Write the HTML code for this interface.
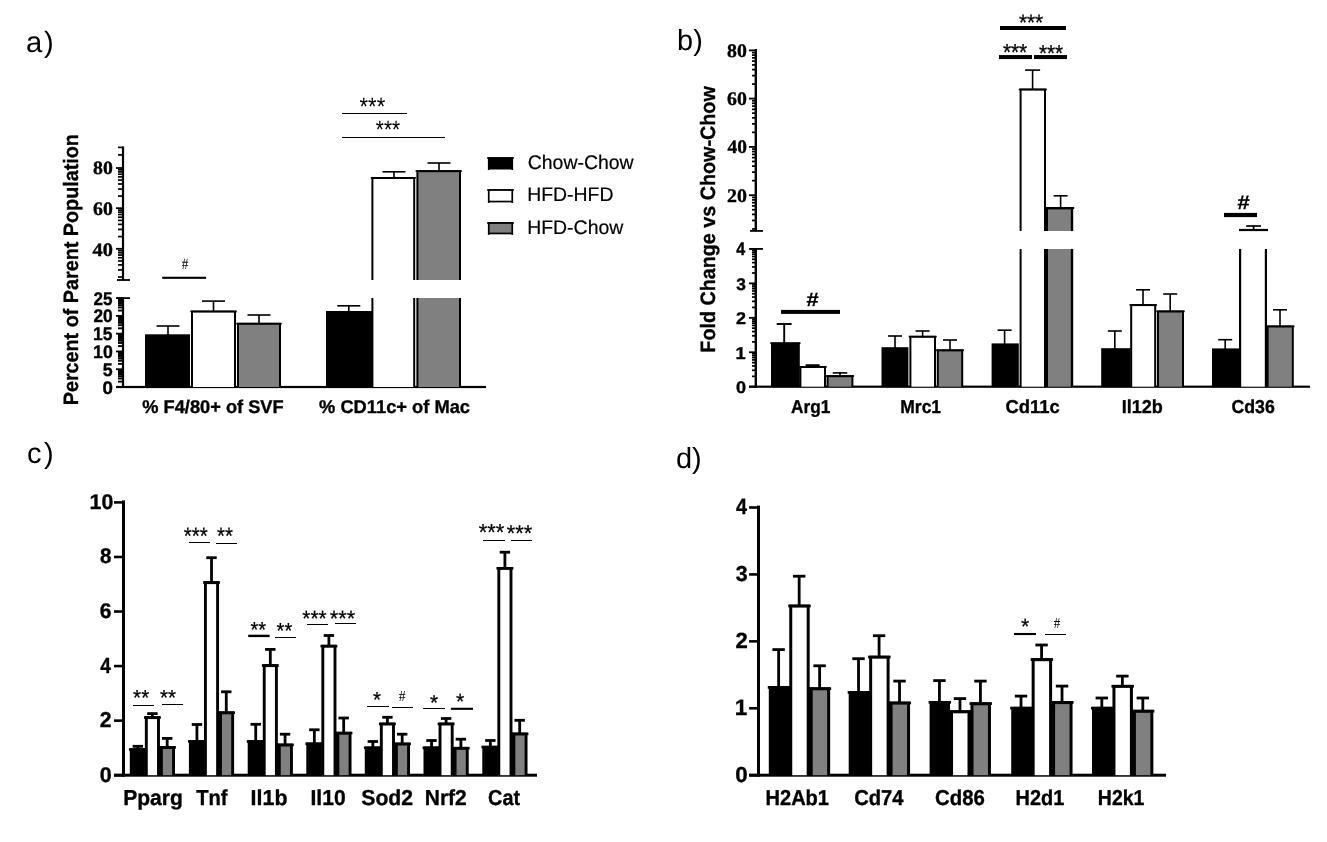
<!DOCTYPE html>
<html lang="en">
<head>
<meta charset="utf-8">
<title>Figure: adipose tissue macrophage gene expression (panels a-d)</title>
<style>
html,body{margin:0;padding:0;background:#fff;}
body{width:1327px;height:842px;overflow:hidden;}
svg{display:block;}
</style>
</head>
<body>
<svg width="1327" height="842" viewBox="0 0 1327 842" shape-rendering="geometricPrecision" text-rendering="geometricPrecision">
<rect x="0" y="0" width="1327" height="842" fill="#fff"/>
<text x="26.06 44.03" y="52" font-family='"Liberation Sans", Arial, Helvetica, sans-serif' font-size="29.2">a)</text>
<text x="676.97 693.28" y="49.9" font-family='"Liberation Sans", Arial, Helvetica, sans-serif' font-size="28.9">b)</text>
<text x="27.08 44.06" y="463" font-family='"Liberation Sans", Arial, Helvetica, sans-serif' font-size="29">c)</text>
<text x="675.91 692.06" y="467.8" font-family='"Liberation Sans", Arial, Helvetica, sans-serif' font-size="29">d)</text>
<g id="panel-a">
<rect x="121.9" y="146.4" width="2.2" height="134.1" fill="#000"/>
<rect x="121.9" y="297.5" width="2.2" height="90.5" fill="#000"/>
<rect x="117" y="279.1" width="13" height="1.8" fill="#000"/>
<rect x="117" y="297.2" width="13" height="1.8" fill="#000"/>
<rect x="116" y="385.9" width="370" height="2.2" fill="#000"/>
<rect x="116" y="167.1" width="7" height="1.8" fill="#000"/>
<rect x="116" y="207.3" width="7" height="1.8" fill="#000"/>
<rect x="116" y="247.9" width="7" height="1.8" fill="#000"/>
<rect x="118" y="154.05" width="5" height="1.7" fill="#000"/>
<rect x="118" y="146.55" width="5" height="1.7" fill="#000"/>
<rect x="118" y="195.25" width="5" height="1.7" fill="#000"/>
<rect x="118" y="188.17" width="5" height="1.7" fill="#000"/>
<rect x="118" y="183.15" width="5" height="1.7" fill="#000"/>
<rect x="118" y="179.25" width="5" height="1.7" fill="#000"/>
<rect x="118" y="176.07" width="5" height="1.7" fill="#000"/>
<rect x="118" y="173.38" width="5" height="1.7" fill="#000"/>
<rect x="118" y="171.05" width="5" height="1.7" fill="#000"/>
<rect x="118" y="168.99" width="5" height="1.7" fill="#000"/>
<rect x="118" y="235.73" width="5" height="1.7" fill="#000"/>
<rect x="118" y="228.58" width="5" height="1.7" fill="#000"/>
<rect x="118" y="223.51" width="5" height="1.7" fill="#000"/>
<rect x="118" y="219.57" width="5" height="1.7" fill="#000"/>
<rect x="118" y="216.36" width="5" height="1.7" fill="#000"/>
<rect x="118" y="213.64" width="5" height="1.7" fill="#000"/>
<rect x="118" y="211.28" width="5" height="1.7" fill="#000"/>
<rect x="118" y="209.21" width="5" height="1.7" fill="#000"/>
<rect x="118" y="276.19" width="5" height="1.7" fill="#000"/>
<rect x="118" y="269.07" width="5" height="1.7" fill="#000"/>
<rect x="118" y="264.03" width="5" height="1.7" fill="#000"/>
<rect x="118" y="260.11" width="5" height="1.7" fill="#000"/>
<rect x="118" y="256.91" width="5" height="1.7" fill="#000"/>
<rect x="118" y="254.21" width="5" height="1.7" fill="#000"/>
<rect x="118" y="251.87" width="5" height="1.7" fill="#000"/>
<rect x="118" y="249.8" width="5" height="1.7" fill="#000"/>
<rect x="116" y="386.1" width="7" height="1.8" fill="#000"/>
<rect x="118" y="380.7" width="5" height="1.9" fill="#000"/>
<rect x="118" y="377.57" width="5" height="1.9" fill="#000"/>
<rect x="118" y="375.35" width="5" height="1.9" fill="#000"/>
<rect x="118" y="373.62" width="5" height="1.9" fill="#000"/>
<rect x="118" y="372.21" width="5" height="1.9" fill="#000"/>
<rect x="118" y="371.02" width="5" height="1.9" fill="#000"/>
<rect x="118" y="369.99" width="5" height="1.9" fill="#000"/>
<rect x="118" y="369.08" width="5" height="1.9" fill="#000"/>
<rect x="116" y="368.32" width="7" height="1.8" fill="#000"/>
<rect x="118" y="362.92" width="5" height="1.9" fill="#000"/>
<rect x="118" y="359.79" width="5" height="1.9" fill="#000"/>
<rect x="118" y="357.57" width="5" height="1.9" fill="#000"/>
<rect x="118" y="355.84" width="5" height="1.9" fill="#000"/>
<rect x="118" y="354.43" width="5" height="1.9" fill="#000"/>
<rect x="118" y="353.24" width="5" height="1.9" fill="#000"/>
<rect x="118" y="352.21" width="5" height="1.9" fill="#000"/>
<rect x="118" y="351.3" width="5" height="1.9" fill="#000"/>
<rect x="116" y="350.54" width="7" height="1.8" fill="#000"/>
<rect x="118" y="345.14" width="5" height="1.9" fill="#000"/>
<rect x="118" y="342.01" width="5" height="1.9" fill="#000"/>
<rect x="118" y="339.79" width="5" height="1.9" fill="#000"/>
<rect x="118" y="338.06" width="5" height="1.9" fill="#000"/>
<rect x="118" y="336.65" width="5" height="1.9" fill="#000"/>
<rect x="118" y="335.46" width="5" height="1.9" fill="#000"/>
<rect x="118" y="334.43" width="5" height="1.9" fill="#000"/>
<rect x="118" y="333.52" width="5" height="1.9" fill="#000"/>
<rect x="116" y="332.76" width="7" height="1.8" fill="#000"/>
<rect x="118" y="327.36" width="5" height="1.9" fill="#000"/>
<rect x="118" y="324.23" width="5" height="1.9" fill="#000"/>
<rect x="118" y="322.01" width="5" height="1.9" fill="#000"/>
<rect x="118" y="320.28" width="5" height="1.9" fill="#000"/>
<rect x="118" y="318.87" width="5" height="1.9" fill="#000"/>
<rect x="118" y="317.68" width="5" height="1.9" fill="#000"/>
<rect x="118" y="316.65" width="5" height="1.9" fill="#000"/>
<rect x="118" y="315.74" width="5" height="1.9" fill="#000"/>
<rect x="116" y="314.98" width="7" height="1.8" fill="#000"/>
<rect x="118" y="309.58" width="5" height="1.9" fill="#000"/>
<rect x="118" y="306.45" width="5" height="1.9" fill="#000"/>
<rect x="118" y="304.23" width="5" height="1.9" fill="#000"/>
<rect x="118" y="302.5" width="5" height="1.9" fill="#000"/>
<rect x="118" y="301.09" width="5" height="1.9" fill="#000"/>
<rect x="118" y="299.9" width="5" height="1.9" fill="#000"/>
<rect x="118" y="298.87" width="5" height="1.9" fill="#000"/>
<rect x="118" y="297.96" width="5" height="1.9" fill="#000"/>
<rect x="116" y="297.2" width="7" height="1.8" fill="#000"/>
<text transform="translate(93.01 173.71) scale(1.0515 1.0000)" font-family='"Liberation Serif", "Times New Roman", Times, serif' font-size="18.81" font-weight="bold" stroke="#000" stroke-width="0.35">80</text>
<text transform="translate(93.01 214.81) scale(1.0352 1.0000)" font-family='"Liberation Serif", "Times New Roman", Times, serif' font-size="19.11" font-weight="bold" stroke="#000" stroke-width="0.35">60</text>
<text transform="translate(92.5 255.91) scale(1.0631 1.0000)" font-family='"Liberation Serif", "Times New Roman", Times, serif' font-size="19.11" font-weight="bold" stroke="#000" stroke-width="0.35">40</text>
<text transform="translate(102.55 393.57) scale(1.0313 1.0000)" font-family='"Liberation Sans", Arial, Helvetica, sans-serif' font-size="18.17" font-weight="bold" stroke="#000" stroke-width="0.35">0</text>
<text transform="translate(102.77 375.79) scale(0.9659 1.0000)" font-family='"Liberation Sans", Arial, Helvetica, sans-serif' font-size="18.43" font-weight="bold" stroke="#000" stroke-width="0.35">5</text>
<text transform="translate(93.04 358.01) scale(0.9754 1.0000)" font-family='"Liberation Sans", Arial, Helvetica, sans-serif' font-size="18.17" font-weight="bold" stroke="#000" stroke-width="0.35">10</text>
<text transform="translate(93.05 340.23) scale(0.9476 1.0000)" font-family='"Liberation Sans", Arial, Helvetica, sans-serif' font-size="18.43" font-weight="bold" stroke="#000" stroke-width="0.35">15</text>
<text transform="translate(93.49 322.45) scale(0.9519 1.0000)" font-family='"Liberation Sans", Arial, Helvetica, sans-serif' font-size="18.17" font-weight="bold" stroke="#000" stroke-width="0.35">20</text>
<text transform="translate(93.5 304.67) scale(0.9383 1.0000)" font-family='"Liberation Sans", Arial, Helvetica, sans-serif' font-size="18.17" font-weight="bold" stroke="#000" stroke-width="0.35">25</text>
<text transform="translate(77.9 405.29) rotate(-90) scale(0.9516 1.0000)" font-family='"Liberation Sans", Arial, Helvetica, sans-serif' font-size="20.78" font-weight="bold" stroke="#000" stroke-width="0.35">Percent of Parent Population</text>
<rect x="145" y="334.3" width="45" height="53.2" fill="#000"/>
<rect x="191" y="310.6" width="45" height="76.9" fill="#000"/>
<rect x="190.3" y="310.6" width="46.4" height="1.7" fill="#000"/>
<rect x="193" y="312.6" width="41" height="74.4" fill="#fff"/>
<rect x="237" y="322.8" width="44" height="64.7" fill="#000"/>
<rect x="236.3" y="322.8" width="45.4" height="1.7" fill="#000"/>
<rect x="239" y="324.8" width="40" height="62.2" fill="#808080"/>
<rect x="167.2" y="326" width="1.6" height="9.3" fill="#000"/>
<rect x="156.5" y="325.2" width="23" height="1.6" fill="#000"/>
<rect x="212.7" y="301.1" width="1.6" height="10.5" fill="#000"/>
<rect x="202" y="300.3" width="23" height="1.6" fill="#000"/>
<rect x="258.2" y="315" width="1.6" height="8.8" fill="#000"/>
<rect x="247.5" y="314.2" width="23" height="1.6" fill="#000"/>
<rect x="326" y="311" width="46" height="76.5" fill="#000"/>
<rect x="348" y="305.8" width="1.6" height="6.2" fill="#000"/>
<rect x="337.3" y="305" width="23" height="1.6" fill="#000"/>
<rect x="371.4" y="177" width="43.8" height="103" fill="#000"/>
<rect x="370.8" y="177" width="45" height="1.7" fill="#000"/>
<rect x="373.4" y="179" width="39.8" height="101" fill="#fff"/>
<rect x="371.4" y="298" width="43.8" height="89.5" fill="#000"/>
<rect x="373.4" y="298" width="39.8" height="89" fill="#fff"/>
<rect x="416.4" y="170.2" width="44.6" height="109.8" fill="#000"/>
<rect x="415.6" y="170.2" width="46.2" height="1.7" fill="#000"/>
<rect x="418.4" y="172.2" width="40.6" height="107.8" fill="#808080"/>
<rect x="416.4" y="298" width="44.6" height="89.5" fill="#000"/>
<rect x="418.4" y="298" width="40.6" height="89" fill="#808080"/>
<rect x="393.2" y="171.8" width="1.6" height="6.2" fill="#000"/>
<rect x="382.5" y="171" width="23" height="1.6" fill="#000"/>
<rect x="438.2" y="163" width="1.6" height="8.2" fill="#000"/>
<rect x="427.5" y="162.2" width="23" height="1.6" fill="#000"/>
<rect x="162.2" y="276.75" width="43.9" height="2.1" fill="#000"/>
<text transform="translate(181.83 269.2) scale(0.8433 1.0000)" font-family='"Liberation Serif", "Times New Roman", Times, serif' font-size="15.73">#</text>
<rect x="342" y="113" width="65" height="1" fill="#000" shape-rendering="crispEdges"/>
<rect x="342" y="137" width="103" height="1" fill="#000" shape-rendering="crispEdges"/>
<text transform="translate(359.57 114.75) scale(0.8722 1.0000)" font-family='"Liberation Sans", Arial, Helvetica, sans-serif' font-size="25.14">***</text>
<text transform="translate(375.79 138.45) scale(0.8269 1.0000)" font-family='"Liberation Sans", Arial, Helvetica, sans-serif' font-size="25.14">***</text>
<text transform="translate(142.34 412.9) scale(0.9884 1.0000)" font-family='"Liberation Sans", Arial, Helvetica, sans-serif' font-size="18.46" font-weight="bold" stroke="#000" stroke-width="0.35">% F4/80+ of SVF</text>
<text transform="translate(319.04 412.9) scale(0.9922 1.0000)" font-family='"Liberation Sans", Arial, Helvetica, sans-serif' font-size="18.46" font-weight="bold" stroke="#000" stroke-width="0.35">% CD11c+ of Mac</text>
<rect x="487.2" y="157.2" width="26.6" height="1.7" fill="#000"/>
<rect x="487.9" y="157.2" width="25.2" height="12.3" fill="#000"/>
<rect x="487.9" y="169" width="1.7" height="1" fill="#000"/>
<rect x="511.4" y="169" width="1.7" height="1" fill="#000"/>
<text transform="translate(527.73 169.3) scale(0.9909 1.0000)" font-family='"Liberation Sans", Arial, Helvetica, sans-serif' font-size="19.62" stroke="#000" stroke-width="0.2">Chow-Chow</text>
<rect x="487.2" y="189.2" width="26.6" height="1.7" fill="#000"/>
<rect x="487.9" y="189.2" width="25.2" height="13.2" fill="#000"/>
<rect x="487.9" y="201.9" width="1.7" height="1" fill="#000"/>
<rect x="511.4" y="201.9" width="1.7" height="1" fill="#000"/>
<rect x="489.6" y="190.9" width="21.8" height="9.8" fill="#fff"/>
<text transform="translate(527.14 201.4) scale(0.9909 1.0000)" font-family='"Liberation Sans", Arial, Helvetica, sans-serif' font-size="19.62" stroke="#000" stroke-width="0.2">HFD-HFD</text>
<rect x="487.2" y="222.2" width="26.6" height="1.7" fill="#000"/>
<rect x="487.9" y="222.2" width="25.2" height="12.1" fill="#000"/>
<rect x="487.9" y="233.8" width="1.7" height="1" fill="#000"/>
<rect x="511.4" y="233.8" width="1.7" height="1" fill="#000"/>
<rect x="489.6" y="223.9" width="21.8" height="8.7" fill="#808080"/>
<text transform="translate(527.14 233.7) scale(0.9921 1.0000)" font-family='"Liberation Sans", Arial, Helvetica, sans-serif' font-size="19.62" stroke="#000" stroke-width="0.2">HFD-Chow</text>
</g>
<g id="panel-b">
<rect x="754.6" y="49" width="2.4" height="182.5" fill="#000"/>
<rect x="754.6" y="248.2" width="2.4" height="139.6" fill="#000"/>
<rect x="750" y="230" width="13" height="1.8" fill="#000"/>
<rect x="750" y="248" width="13" height="1.8" fill="#000"/>
<rect x="749" y="385.6" width="561" height="2.2" fill="#000"/>
<rect x="749" y="49.5" width="6.8" height="1.8" fill="#000"/>
<text transform="translate(727.11 56.81) scale(1.0352 1.0000)" font-family='"Liberation Serif", "Times New Roman", Times, serif' font-size="19.11" font-weight="bold" stroke="#000" stroke-width="0.35">80</text>
<rect x="749" y="97.7" width="6.8" height="1.8" fill="#000"/>
<text transform="translate(727.11 105.01) scale(1.0352 1.0000)" font-family='"Liberation Serif", "Times New Roman", Times, serif' font-size="19.11" font-weight="bold" stroke="#000" stroke-width="0.35">60</text>
<rect x="749" y="146" width="6.8" height="1.8" fill="#000"/>
<text transform="translate(727.51 153.31) scale(1.0133 1.0000)" font-family='"Liberation Serif", "Times New Roman", Times, serif' font-size="19.11" font-weight="bold" stroke="#000" stroke-width="0.35">40</text>
<rect x="749" y="194.3" width="6.8" height="1.8" fill="#000"/>
<text transform="translate(727 201.61) scale(1.0408 1.0000)" font-family='"Liberation Serif", "Times New Roman", Times, serif' font-size="19.11" font-weight="bold" stroke="#000" stroke-width="0.35">20</text>
<rect x="752" y="83.24" width="3.8" height="1.7" fill="#000"/>
<rect x="752" y="74.75" width="3.8" height="1.7" fill="#000"/>
<rect x="752" y="68.73" width="3.8" height="1.7" fill="#000"/>
<rect x="752" y="64.06" width="3.8" height="1.7" fill="#000"/>
<rect x="752" y="60.24" width="3.8" height="1.7" fill="#000"/>
<rect x="752" y="57.02" width="3.8" height="1.7" fill="#000"/>
<rect x="752" y="54.22" width="3.8" height="1.7" fill="#000"/>
<rect x="752" y="51.76" width="3.8" height="1.7" fill="#000"/>
<rect x="752" y="131.51" width="3.8" height="1.7" fill="#000"/>
<rect x="752" y="123.01" width="3.8" height="1.7" fill="#000"/>
<rect x="752" y="116.97" width="3.8" height="1.7" fill="#000"/>
<rect x="752" y="112.29" width="3.8" height="1.7" fill="#000"/>
<rect x="752" y="108.47" width="3.8" height="1.7" fill="#000"/>
<rect x="752" y="105.23" width="3.8" height="1.7" fill="#000"/>
<rect x="752" y="102.43" width="3.8" height="1.7" fill="#000"/>
<rect x="752" y="99.96" width="3.8" height="1.7" fill="#000"/>
<rect x="752" y="179.81" width="3.8" height="1.7" fill="#000"/>
<rect x="752" y="171.31" width="3.8" height="1.7" fill="#000"/>
<rect x="752" y="165.27" width="3.8" height="1.7" fill="#000"/>
<rect x="752" y="160.59" width="3.8" height="1.7" fill="#000"/>
<rect x="752" y="156.77" width="3.8" height="1.7" fill="#000"/>
<rect x="752" y="153.53" width="3.8" height="1.7" fill="#000"/>
<rect x="752" y="150.73" width="3.8" height="1.7" fill="#000"/>
<rect x="752" y="148.26" width="3.8" height="1.7" fill="#000"/>
<rect x="752" y="228.11" width="3.8" height="1.7" fill="#000"/>
<rect x="752" y="219.61" width="3.8" height="1.7" fill="#000"/>
<rect x="752" y="213.57" width="3.8" height="1.7" fill="#000"/>
<rect x="752" y="208.89" width="3.8" height="1.7" fill="#000"/>
<rect x="752" y="205.07" width="3.8" height="1.7" fill="#000"/>
<rect x="752" y="201.83" width="3.8" height="1.7" fill="#000"/>
<rect x="752" y="199.03" width="3.8" height="1.7" fill="#000"/>
<rect x="752" y="196.56" width="3.8" height="1.7" fill="#000"/>
<rect x="749" y="385.8" width="6.8" height="1.8" fill="#000"/>
<text transform="translate(735.88 393.03) scale(1.0802 1.0000)" font-family='"Liberation Sans", Arial, Helvetica, sans-serif' font-size="16.76" font-weight="bold" stroke="#000" stroke-width="0.35">0</text>
<rect x="752" y="375.48" width="3.8" height="1.7" fill="#000"/>
<rect x="752" y="369.41" width="3.8" height="1.7" fill="#000"/>
<rect x="752" y="365.11" width="3.8" height="1.7" fill="#000"/>
<rect x="752" y="361.77" width="3.8" height="1.7" fill="#000"/>
<rect x="752" y="359.04" width="3.8" height="1.7" fill="#000"/>
<rect x="752" y="356.74" width="3.8" height="1.7" fill="#000"/>
<rect x="752" y="354.74" width="3.8" height="1.7" fill="#000"/>
<rect x="752" y="352.98" width="3.8" height="1.7" fill="#000"/>
<rect x="749" y="351.35" width="6.8" height="1.8" fill="#000"/>
<text transform="translate(735.5 358.75) scale(1.0610 1.0000)" font-family='"Liberation Sans", Arial, Helvetica, sans-serif' font-size="17.25" font-weight="bold" stroke="#000" stroke-width="0.35">1</text>
<rect x="752" y="341.03" width="3.8" height="1.7" fill="#000"/>
<rect x="752" y="334.96" width="3.8" height="1.7" fill="#000"/>
<rect x="752" y="330.66" width="3.8" height="1.7" fill="#000"/>
<rect x="752" y="327.32" width="3.8" height="1.7" fill="#000"/>
<rect x="752" y="324.59" width="3.8" height="1.7" fill="#000"/>
<rect x="752" y="322.29" width="3.8" height="1.7" fill="#000"/>
<rect x="752" y="320.29" width="3.8" height="1.7" fill="#000"/>
<rect x="752" y="318.53" width="3.8" height="1.7" fill="#000"/>
<rect x="749" y="316.9" width="6.8" height="1.8" fill="#000"/>
<text transform="translate(735.97 324.3) scale(1.0539 1.0000)" font-family='"Liberation Sans", Arial, Helvetica, sans-serif' font-size="17" font-weight="bold" stroke="#000" stroke-width="0.35">2</text>
<rect x="752" y="306.58" width="3.8" height="1.7" fill="#000"/>
<rect x="752" y="300.51" width="3.8" height="1.7" fill="#000"/>
<rect x="752" y="296.21" width="3.8" height="1.7" fill="#000"/>
<rect x="752" y="292.87" width="3.8" height="1.7" fill="#000"/>
<rect x="752" y="290.14" width="3.8" height="1.7" fill="#000"/>
<rect x="752" y="287.84" width="3.8" height="1.7" fill="#000"/>
<rect x="752" y="285.84" width="3.8" height="1.7" fill="#000"/>
<rect x="752" y="284.08" width="3.8" height="1.7" fill="#000"/>
<rect x="749" y="282.45" width="6.8" height="1.8" fill="#000"/>
<text transform="translate(736.17 289.68) scale(1.0366 1.0000)" font-family='"Liberation Sans", Arial, Helvetica, sans-serif' font-size="16.76" font-weight="bold" stroke="#000" stroke-width="0.35">3</text>
<rect x="752" y="272.13" width="3.8" height="1.7" fill="#000"/>
<rect x="752" y="266.06" width="3.8" height="1.7" fill="#000"/>
<rect x="752" y="261.76" width="3.8" height="1.7" fill="#000"/>
<rect x="752" y="258.42" width="3.8" height="1.7" fill="#000"/>
<rect x="752" y="255.69" width="3.8" height="1.7" fill="#000"/>
<rect x="752" y="253.39" width="3.8" height="1.7" fill="#000"/>
<rect x="752" y="251.39" width="3.8" height="1.7" fill="#000"/>
<rect x="752" y="249.63" width="3.8" height="1.7" fill="#000"/>
<rect x="749" y="248" width="6.8" height="1.8" fill="#000"/>
<text transform="translate(736.36 255.4) scale(0.8873 1.0000)" font-family='"Liberation Sans", Arial, Helvetica, sans-serif' font-size="18.12" font-weight="bold" stroke="#000" stroke-width="0.35">4</text>
<text transform="translate(715 352.68) rotate(-90) scale(0.9504 1.0000)" font-family='"Liberation Sans", Arial, Helvetica, sans-serif' font-size="20.78" font-weight="bold" stroke="#000" stroke-width="0.35">Fold Change vs Chow-Chow</text>
<rect x="771" y="342.4" width="28.8" height="44.8" fill="#000"/>
<rect x="770.3" y="342.4" width="30.2" height="1.7" fill="#000"/>
<rect x="799.4" y="366" width="26.6" height="21.2" fill="#000"/>
<rect x="798.7" y="366" width="28" height="1.7" fill="#000"/>
<rect x="801.4" y="368" width="22.6" height="18.7" fill="#fff"/>
<rect x="826.6" y="375.2" width="26.8" height="12" fill="#000"/>
<rect x="825.9" y="375.2" width="28.2" height="1.7" fill="#000"/>
<rect x="828.6" y="377.2" width="22.8" height="9.5" fill="#808080"/>
<rect x="783.25" y="324" width="1.9" height="19.7" fill="#000"/>
<rect x="776.7" y="323.05" width="15" height="1.9" fill="#000"/>
<rect x="811.65" y="365.2" width="1.9" height="2.4" fill="#000"/>
<rect x="805.6" y="364.25" width="14" height="1.9" fill="#000"/>
<rect x="839.2" y="372.9" width="1.6" height="3.3" fill="#000"/>
<rect x="832.7" y="372.1" width="14.6" height="1.6" fill="#000"/>
<rect x="881.5" y="347.2" width="26.9" height="40" fill="#000"/>
<rect x="909.4" y="335.8" width="26.6" height="51.4" fill="#000"/>
<rect x="908.7" y="335.8" width="28" height="1.7" fill="#000"/>
<rect x="911.4" y="337.8" width="22.6" height="48.9" fill="#fff"/>
<rect x="936.8" y="349.4" width="26.4" height="37.8" fill="#000"/>
<rect x="936.1" y="349.4" width="27.8" height="1.7" fill="#000"/>
<rect x="938.8" y="351.4" width="22.4" height="35.3" fill="#808080"/>
<rect x="894.2" y="336" width="1.6" height="12.2" fill="#000"/>
<rect x="888" y="335.2" width="14" height="1.6" fill="#000"/>
<rect x="921.8" y="331" width="1.6" height="6.7" fill="#000"/>
<rect x="915.6" y="330.2" width="14" height="1.6" fill="#000"/>
<rect x="949.2" y="340" width="1.6" height="10.7" fill="#000"/>
<rect x="943" y="339.2" width="14" height="1.6" fill="#000"/>
<rect x="991.6" y="343.4" width="27.2" height="43.8" fill="#000"/>
<rect x="1003.8" y="330.2" width="1.6" height="14.2" fill="#000"/>
<rect x="997.6" y="329.4" width="14" height="1.6" fill="#000"/>
<rect x="1019.6" y="88.6" width="26.4" height="142.4" fill="#000"/>
<rect x="1018.8" y="88.6" width="28" height="1.7" fill="#000"/>
<rect x="1021.6" y="90.6" width="22.4" height="140.4" fill="#fff"/>
<rect x="1019.6" y="249" width="26.4" height="138.2" fill="#000"/>
<rect x="1021.6" y="249" width="22.4" height="137.7" fill="#fff"/>
<rect x="1045.6" y="207" width="27.6" height="24" fill="#000"/>
<rect x="1044.6" y="207" width="29.6" height="2.1" fill="#000"/>
<rect x="1048" y="209.4" width="22.8" height="21.6" fill="#808080"/>
<rect x="1045.6" y="249" width="27.6" height="138.2" fill="#000"/>
<rect x="1048" y="249" width="22.8" height="137.7" fill="#808080"/>
<rect x="1031.8" y="70.1" width="1.6" height="19.5" fill="#000"/>
<rect x="1025.1" y="69.3" width="15" height="1.6" fill="#000"/>
<rect x="1059.8" y="195.8" width="1.6" height="12.2" fill="#000"/>
<rect x="1053.6" y="195" width="14" height="1.6" fill="#000"/>
<rect x="1101.2" y="348.2" width="29.4" height="39" fill="#000"/>
<rect x="1130.2" y="304.1" width="26" height="83.1" fill="#000"/>
<rect x="1129.5" y="304.1" width="27.4" height="1.7" fill="#000"/>
<rect x="1132.2" y="306.1" width="22" height="80.6" fill="#fff"/>
<rect x="1157" y="310.5" width="27" height="76.7" fill="#000"/>
<rect x="1156.3" y="310.5" width="28.4" height="1.7" fill="#000"/>
<rect x="1159" y="312.5" width="23" height="74.2" fill="#808080"/>
<rect x="1114" y="331" width="1.6" height="18.4" fill="#000"/>
<rect x="1107.8" y="330.2" width="14" height="1.6" fill="#000"/>
<rect x="1142.2" y="289.8" width="1.6" height="16" fill="#000"/>
<rect x="1136" y="289" width="14" height="1.6" fill="#000"/>
<rect x="1169.4" y="294" width="1.6" height="18" fill="#000"/>
<rect x="1163.2" y="293.2" width="14" height="1.6" fill="#000"/>
<rect x="1212" y="348.4" width="28" height="38.8" fill="#000"/>
<rect x="1224.4" y="339.7" width="1.6" height="9.7" fill="#000"/>
<rect x="1218.2" y="338.9" width="14" height="1.6" fill="#000"/>
<rect x="1239" y="249" width="28" height="138.2" fill="#000"/>
<rect x="1241.2" y="249" width="23.6" height="137.7" fill="#fff"/>
<rect x="1239" y="228.9" width="29" height="2.2" fill="#000"/>
<rect x="1252.75" y="226" width="1.7" height="4.6" fill="#000"/>
<rect x="1246.2" y="225.15" width="14.8" height="1.7" fill="#000"/>
<rect x="1266.6" y="325.5" width="27.2" height="61.7" fill="#000"/>
<rect x="1265.9" y="325.5" width="28.6" height="1.7" fill="#000"/>
<rect x="1268.6" y="327.5" width="23.2" height="59.2" fill="#808080"/>
<rect x="1279.2" y="309.8" width="1.6" height="17.2" fill="#000"/>
<rect x="1273" y="309" width="14" height="1.6" fill="#000"/>
<rect x="781" y="309.9" width="59" height="4" fill="#000"/>
<text transform="translate(806.47 306) scale(1.1458 1.0000)" font-family='"Liberation Sans", Arial, Helvetica, sans-serif' font-size="19.12" font-weight="bold" stroke="#000" stroke-width="0.3">#</text>
<rect x="1000" y="26" width="66" height="4" fill="#000"/>
<rect x="999" y="55.05" width="33" height="4" fill="#000"/>
<rect x="1034" y="55.05" width="33" height="4" fill="#000"/>
<text transform="translate(1018.89 30.38) scale(0.9329 1.0000)" font-family='"Liberation Sans", Arial, Helvetica, sans-serif' font-size="22.29" stroke="#000" stroke-width="0.3">***</text>
<text transform="translate(1002.89 59.77) scale(0.8983 1.0000)" font-family='"Liberation Sans", Arial, Helvetica, sans-serif' font-size="23.14" stroke="#000" stroke-width="0.3">***</text>
<text transform="translate(1038.89 60.67) scale(0.9057 1.0000)" font-family='"Liberation Sans", Arial, Helvetica, sans-serif' font-size="22.86" stroke="#000" stroke-width="0.3">***</text>
<rect x="1224" y="212.9" width="33" height="4.2" fill="#000"/>
<text transform="translate(1237.47 209.2) scale(1.1199 1.0000)" font-family='"Liberation Sans", Arial, Helvetica, sans-serif' font-size="19.56" font-weight="bold" stroke="#000" stroke-width="0.3">#</text>
<text transform="translate(791.07 413) scale(0.9276 1.0000)" font-family='"Liberation Sans", Arial, Helvetica, sans-serif' font-size="18.6" font-weight="bold" stroke="#000" stroke-width="0.35">Arg1</text>
<text transform="translate(900.26 413) scale(0.9409 1.0000)" font-family='"Liberation Sans", Arial, Helvetica, sans-serif' font-size="18.6" font-weight="bold" stroke="#000" stroke-width="0.35">Mrc1</text>
<text transform="translate(1005.56 413) scale(0.9890 1.0000)" font-family='"Liberation Sans", Arial, Helvetica, sans-serif' font-size="18.6" font-weight="bold" stroke="#000" stroke-width="0.35">Cd11c</text>
<text transform="translate(1121.63 413) scale(0.9712 1.0000)" font-family='"Liberation Sans", Arial, Helvetica, sans-serif' font-size="18.6" font-weight="bold" stroke="#000" stroke-width="0.35">Il12b</text>
<text transform="translate(1231.49 413) scale(0.9525 1.0000)" font-family='"Liberation Sans", Arial, Helvetica, sans-serif' font-size="18.6" font-weight="bold" stroke="#000" stroke-width="0.35">Cd36</text>
</g>
<g id="panel-c">
<rect x="122" y="500.4" width="3" height="276.3" fill="#000"/>
<rect x="114" y="773.7" width="423" height="3" fill="#000"/>
<rect x="114" y="773.9" width="9.5" height="2.6" fill="#000"/>
<text transform="translate(99.74 781.69) scale(1.0097 1.0000)" font-family='"Liberation Sans", Arial, Helvetica, sans-serif' font-size="21.27" font-weight="bold" stroke="#000" stroke-width="0.35">0</text>
<rect x="114" y="719.34" width="9.5" height="2.6" fill="#000"/>
<text transform="translate(99.86 727.34) scale(0.9851 1.0000)" font-family='"Liberation Sans", Arial, Helvetica, sans-serif' font-size="21.57" font-weight="bold" stroke="#000" stroke-width="0.35">2</text>
<rect x="114" y="664.78" width="9.5" height="2.6" fill="#000"/>
<text transform="translate(100.31 672.78) scale(0.8712 1.0000)" font-family='"Liberation Sans", Arial, Helvetica, sans-serif' font-size="21.88" font-weight="bold" stroke="#000" stroke-width="0.35">4</text>
<rect x="114" y="610.22" width="9.5" height="2.6" fill="#000"/>
<text transform="translate(99.86 618.01) scale(0.9889 1.0000)" font-family='"Liberation Sans", Arial, Helvetica, sans-serif' font-size="21.27" font-weight="bold" stroke="#000" stroke-width="0.35">6</text>
<rect x="114" y="555.66" width="9.5" height="2.6" fill="#000"/>
<text transform="translate(99.98 563.45) scale(0.9689 1.0000)" font-family='"Liberation Sans", Arial, Helvetica, sans-serif' font-size="21.27" font-weight="bold" stroke="#000" stroke-width="0.35">8</text>
<rect x="114" y="501.1" width="9.5" height="2.6" fill="#000"/>
<text transform="translate(89.52 508.89) scale(1.0056 1.0000)" font-family='"Liberation Sans", Arial, Helvetica, sans-serif' font-size="21.27" font-weight="bold" stroke="#000" stroke-width="0.35">10</text>
<rect x="129.8" y="748.2" width="15.07" height="27.5" fill="#000"/>
<rect x="128.9" y="748.2" width="16.87" height="2.6" fill="#000"/>
<rect x="144.87" y="716.2" width="15.07" height="59.5" fill="#000"/>
<rect x="143.97" y="716.2" width="16.87" height="2.6" fill="#000"/>
<rect x="147.77" y="719.1" width="9.27" height="56.1" fill="#fff"/>
<rect x="159.94" y="746.1" width="15.07" height="29.6" fill="#000"/>
<rect x="159.04" y="746.1" width="16.87" height="2.6" fill="#000"/>
<rect x="162.84" y="749" width="9.27" height="26.2" fill="#808080"/>
<rect x="144.17" y="748.2" width="1.4" height="27" fill="#000"/>
<rect x="159.24" y="746.1" width="1.4" height="29.1" fill="#000"/>
<rect x="136.44" y="746.3" width="2.8" height="2.9" fill="#000"/>
<rect x="132.64" y="744.9" width="10.4" height="2.8" fill="#000"/>
<rect x="151" y="713.6" width="2.8" height="3.6" fill="#000"/>
<rect x="147.21" y="712.2" width="10.4" height="2.8" fill="#000"/>
<rect x="165.78" y="738.4" width="2.8" height="8.7" fill="#000"/>
<rect x="161.98" y="737" width="10.4" height="2.8" fill="#000"/>
<text transform="translate(123.13 805) scale(0.9730 1.0000)" font-family='"Liberation Sans", Arial, Helvetica, sans-serif' font-size="21.66" font-weight="bold" stroke="#000" stroke-width="0.35">Pparg</text>
<rect x="188.9" y="740.2" width="15.07" height="35.5" fill="#000"/>
<rect x="188" y="740.2" width="16.87" height="2.6" fill="#000"/>
<rect x="203.97" y="581.2" width="15.07" height="194.5" fill="#000"/>
<rect x="203.07" y="581.2" width="16.87" height="2.6" fill="#000"/>
<rect x="206.87" y="584.1" width="9.27" height="191.1" fill="#fff"/>
<rect x="219.04" y="711.4" width="15.07" height="64.3" fill="#000"/>
<rect x="218.14" y="711.4" width="16.87" height="2.6" fill="#000"/>
<rect x="221.94" y="714.3" width="9.27" height="60.9" fill="#808080"/>
<rect x="203.27" y="740.2" width="1.4" height="35" fill="#000"/>
<rect x="218.34" y="711.4" width="1.4" height="63.8" fill="#000"/>
<rect x="195.53" y="724.5" width="2.8" height="16.7" fill="#000"/>
<rect x="191.74" y="723.1" width="10.4" height="2.8" fill="#000"/>
<rect x="210.1" y="557.7" width="2.8" height="24.5" fill="#000"/>
<rect x="206.31" y="556.3" width="10.4" height="2.8" fill="#000"/>
<rect x="224.87" y="691.8" width="2.8" height="20.6" fill="#000"/>
<rect x="221.07" y="690.4" width="10.4" height="2.8" fill="#000"/>
<text transform="translate(196.2 805) scale(0.9325 1.0000)" font-family='"Liberation Sans", Arial, Helvetica, sans-serif' font-size="21.66" font-weight="bold" stroke="#000" stroke-width="0.35">Tnf</text>
<rect x="247.7" y="740.2" width="15.07" height="35.5" fill="#000"/>
<rect x="246.8" y="740.2" width="16.87" height="2.6" fill="#000"/>
<rect x="262.77" y="664.2" width="15.07" height="111.5" fill="#000"/>
<rect x="261.87" y="664.2" width="16.87" height="2.6" fill="#000"/>
<rect x="265.67" y="667.1" width="9.27" height="108.1" fill="#fff"/>
<rect x="277.84" y="743.6" width="15.07" height="32.1" fill="#000"/>
<rect x="276.94" y="743.6" width="16.87" height="2.6" fill="#000"/>
<rect x="280.74" y="746.5" width="9.27" height="28.7" fill="#808080"/>
<rect x="262.07" y="740.2" width="1.4" height="35" fill="#000"/>
<rect x="277.14" y="743.6" width="1.4" height="31.6" fill="#000"/>
<rect x="254.33" y="724.3" width="2.8" height="16.9" fill="#000"/>
<rect x="250.53" y="722.9" width="10.4" height="2.8" fill="#000"/>
<rect x="268.91" y="649.4" width="2.8" height="15.8" fill="#000"/>
<rect x="265.11" y="648" width="10.4" height="2.8" fill="#000"/>
<rect x="283.68" y="734.2" width="2.8" height="10.4" fill="#000"/>
<rect x="279.88" y="732.8" width="10.4" height="2.8" fill="#000"/>
<text transform="translate(250.61 805) scale(0.9892 1.0000)" font-family='"Liberation Sans", Arial, Helvetica, sans-serif' font-size="21.66" font-weight="bold" stroke="#000" stroke-width="0.35">Il1b</text>
<rect x="306.3" y="742.5" width="15.07" height="33.2" fill="#000"/>
<rect x="305.4" y="742.5" width="16.87" height="2.6" fill="#000"/>
<rect x="321.37" y="644.8" width="15.07" height="130.9" fill="#000"/>
<rect x="320.47" y="644.8" width="16.87" height="2.6" fill="#000"/>
<rect x="324.27" y="647.7" width="9.27" height="127.5" fill="#fff"/>
<rect x="336.44" y="731.8" width="15.07" height="43.9" fill="#000"/>
<rect x="335.54" y="731.8" width="16.87" height="2.6" fill="#000"/>
<rect x="339.34" y="734.7" width="9.27" height="40.5" fill="#808080"/>
<rect x="320.67" y="742.5" width="1.4" height="32.7" fill="#000"/>
<rect x="335.74" y="731.8" width="1.4" height="43.4" fill="#000"/>
<rect x="312.94" y="729.8" width="2.8" height="13.7" fill="#000"/>
<rect x="309.14" y="728.4" width="10.4" height="2.8" fill="#000"/>
<rect x="327.51" y="635.5" width="2.8" height="10.3" fill="#000"/>
<rect x="323.71" y="634.1" width="10.4" height="2.8" fill="#000"/>
<rect x="342.28" y="718" width="2.8" height="14.8" fill="#000"/>
<rect x="338.48" y="716.6" width="10.4" height="2.8" fill="#000"/>
<text transform="translate(310.43 805) scale(0.9738 1.0000)" font-family='"Liberation Sans", Arial, Helvetica, sans-serif' font-size="21.66" font-weight="bold" stroke="#000" stroke-width="0.35">Il10</text>
<rect x="364.8" y="746.5" width="15.07" height="29.2" fill="#000"/>
<rect x="363.9" y="746.5" width="16.87" height="2.6" fill="#000"/>
<rect x="379.87" y="722.6" width="15.07" height="53.1" fill="#000"/>
<rect x="378.97" y="722.6" width="16.87" height="2.6" fill="#000"/>
<rect x="382.77" y="725.5" width="9.27" height="49.7" fill="#fff"/>
<rect x="394.94" y="742.6" width="15.07" height="33.1" fill="#000"/>
<rect x="394.04" y="742.6" width="16.87" height="2.6" fill="#000"/>
<rect x="397.84" y="745.5" width="9.27" height="29.7" fill="#808080"/>
<rect x="379.17" y="746.5" width="1.4" height="28.7" fill="#000"/>
<rect x="394.24" y="742.6" width="1.4" height="32.6" fill="#000"/>
<rect x="371.44" y="741.5" width="2.8" height="6" fill="#000"/>
<rect x="367.64" y="740.1" width="10.4" height="2.8" fill="#000"/>
<rect x="386.01" y="717.3" width="2.8" height="6.3" fill="#000"/>
<rect x="382.21" y="715.9" width="10.4" height="2.8" fill="#000"/>
<rect x="400.78" y="734.2" width="2.8" height="9.4" fill="#000"/>
<rect x="396.98" y="732.8" width="10.4" height="2.8" fill="#000"/>
<text transform="translate(361.26 805) scale(0.9779 1.0000)" font-family='"Liberation Sans", Arial, Helvetica, sans-serif' font-size="21.66" font-weight="bold" stroke="#000" stroke-width="0.35">Sod2</text>
<rect x="423.5" y="746.5" width="15.07" height="29.2" fill="#000"/>
<rect x="422.6" y="746.5" width="16.87" height="2.6" fill="#000"/>
<rect x="438.57" y="722.6" width="15.07" height="53.1" fill="#000"/>
<rect x="437.67" y="722.6" width="16.87" height="2.6" fill="#000"/>
<rect x="441.47" y="725.5" width="9.27" height="49.7" fill="#fff"/>
<rect x="453.64" y="746.9" width="15.07" height="28.8" fill="#000"/>
<rect x="452.74" y="746.9" width="16.87" height="2.6" fill="#000"/>
<rect x="456.54" y="749.8" width="9.27" height="25.4" fill="#808080"/>
<rect x="437.87" y="746.5" width="1.4" height="28.7" fill="#000"/>
<rect x="452.94" y="746.9" width="1.4" height="28.3" fill="#000"/>
<rect x="430.14" y="740.5" width="2.8" height="7" fill="#000"/>
<rect x="426.34" y="739.1" width="10.4" height="2.8" fill="#000"/>
<rect x="444.71" y="718.5" width="2.8" height="5.1" fill="#000"/>
<rect x="440.91" y="717.1" width="10.4" height="2.8" fill="#000"/>
<rect x="459.48" y="739.2" width="2.8" height="8.7" fill="#000"/>
<rect x="455.68" y="737.8" width="10.4" height="2.8" fill="#000"/>
<text transform="translate(424.73 805) scale(0.9698 1.0000)" font-family='"Liberation Sans", Arial, Helvetica, sans-serif' font-size="21.66" font-weight="bold" stroke="#000" stroke-width="0.35">Nrf2</text>
<rect x="482.3" y="745.8" width="15.07" height="29.9" fill="#000"/>
<rect x="481.4" y="745.8" width="16.87" height="2.6" fill="#000"/>
<rect x="497.37" y="567" width="15.07" height="208.7" fill="#000"/>
<rect x="496.47" y="567" width="16.87" height="2.6" fill="#000"/>
<rect x="500.27" y="569.9" width="9.27" height="205.3" fill="#fff"/>
<rect x="512.44" y="732.6" width="15.07" height="43.1" fill="#000"/>
<rect x="511.54" y="732.6" width="16.87" height="2.6" fill="#000"/>
<rect x="515.34" y="735.5" width="9.27" height="39.7" fill="#808080"/>
<rect x="496.67" y="745.8" width="1.4" height="29.4" fill="#000"/>
<rect x="511.74" y="732.6" width="1.4" height="42.6" fill="#000"/>
<rect x="488.94" y="740.5" width="2.8" height="6.3" fill="#000"/>
<rect x="485.14" y="739.1" width="10.4" height="2.8" fill="#000"/>
<rect x="503.51" y="552.2" width="2.8" height="15.8" fill="#000"/>
<rect x="499.71" y="550.8" width="10.4" height="2.8" fill="#000"/>
<rect x="518.28" y="720.3" width="2.8" height="13.3" fill="#000"/>
<rect x="514.48" y="718.9" width="10.4" height="2.8" fill="#000"/>
<text transform="translate(488.11 805) scale(0.9146 1.0000)" font-family='"Liberation Sans", Arial, Helvetica, sans-serif' font-size="21.66" font-weight="bold" stroke="#000" stroke-width="0.35">Cat</text>
<rect x="133" y="705" width="21" height="1" fill="#000" shape-rendering="crispEdges"/>
<text transform="translate(133.09 705.38) scale(0.9518 1.0000)" font-family='"Liberation Sans", Arial, Helvetica, sans-serif' font-size="21.71" stroke="#000" stroke-width="0.25">**</text>
<rect x="162" y="704" width="21" height="1" fill="#000" shape-rendering="crispEdges"/>
<text transform="translate(160.09 705.38) scale(0.9456 1.0000)" font-family='"Liberation Sans", Arial, Helvetica, sans-serif' font-size="21.71" stroke="#000" stroke-width="0.25">**</text>
<rect x="189" y="542" width="21" height="1" fill="#000" shape-rendering="crispEdges"/>
<text transform="translate(183.79 544.36) scale(0.8693 1.0000)" font-family='"Liberation Sans", Arial, Helvetica, sans-serif' font-size="23.71" stroke="#000" stroke-width="0.25">***</text>
<rect x="216" y="543" width="21" height="1" fill="#000" shape-rendering="crispEdges"/>
<text transform="translate(216.99 544.36) scale(0.8602 1.0000)" font-family='"Liberation Sans", Arial, Helvetica, sans-serif' font-size="23.71" stroke="#000" stroke-width="0.25">**</text>
<rect x="248.2" y="634.7" width="21.4" height="2.4" fill="#000"/>
<text transform="translate(250.4 637.28) scale(0.9211 1.0000)" font-family='"Liberation Sans", Arial, Helvetica, sans-serif' font-size="21.71" stroke="#000" stroke-width="0.25">**</text>
<rect x="275" y="637" width="21" height="1" fill="#000" shape-rendering="crispEdges"/>
<text transform="translate(276.6 638.28) scale(0.9211 1.0000)" font-family='"Liberation Sans", Arial, Helvetica, sans-serif' font-size="21.71" stroke="#000" stroke-width="0.25">**</text>
<rect x="307" y="624" width="21" height="1" fill="#000" shape-rendering="crispEdges"/>
<text transform="translate(302.29 626.18) scale(0.9450 1.0000)" font-family='"Liberation Sans", Arial, Helvetica, sans-serif' font-size="22" stroke="#000" stroke-width="0.25">***</text>
<rect x="335" y="623" width="21" height="1" fill="#000" shape-rendering="crispEdges"/>
<text transform="translate(329.77 626.18) scale(0.9888 1.0000)" font-family='"Liberation Sans", Arial, Helvetica, sans-serif' font-size="22" stroke="#000" stroke-width="0.25">***</text>
<rect x="367" y="706" width="22" height="1" fill="#000" shape-rendering="crispEdges"/>
<text transform="translate(373.09 706.98) scale(0.9466 1.0000)" font-family='"Liberation Sans", Arial, Helvetica, sans-serif' font-size="21.71" stroke="#000" stroke-width="0.25">*</text>
<rect x="392" y="707" width="21" height="1" fill="#000" shape-rendering="crispEdges"/>
<text transform="translate(398.63 701.1) scale(0.8971 1.0000)" font-family='"Liberation Serif", "Times New Roman", Times, serif' font-size="15.27">#</text>
<rect x="423" y="708" width="22" height="1" fill="#000" shape-rendering="crispEdges"/>
<text transform="translate(429.99 709.89) scale(0.9722 1.0000)" font-family='"Liberation Sans", Arial, Helvetica, sans-serif' font-size="21.43" stroke="#000" stroke-width="0.25">*</text>
<rect x="450.9" y="707.75" width="22.1" height="2.1" fill="#000"/>
<text transform="translate(455.98 709.18) scale(0.9722 1.0000)" font-family='"Liberation Sans", Arial, Helvetica, sans-serif' font-size="22" stroke="#000" stroke-width="0.25">*</text>
<rect x="483" y="540" width="22" height="1" fill="#000" shape-rendering="crispEdges"/>
<text transform="translate(478.67 539.87) scale(0.9438 1.0000)" font-family='"Liberation Sans", Arial, Helvetica, sans-serif' font-size="23.14" stroke="#000" stroke-width="0.25">***</text>
<rect x="511" y="540" width="21" height="1" fill="#000" shape-rendering="crispEdges"/>
<text transform="translate(506.77 540.67) scale(0.9518 1.0000)" font-family='"Liberation Sans", Arial, Helvetica, sans-serif' font-size="22.86" stroke="#000" stroke-width="0.25">***</text>
</g>
<g id="panel-d">
<rect x="757" y="505.6" width="3" height="271.1" fill="#000"/>
<rect x="749.1" y="773.7" width="416.9" height="3" fill="#000"/>
<rect x="749.1" y="773.9" width="9.4" height="2.6" fill="#000"/>
<text transform="translate(735.31 781.58) scale(1.0288 1.0000)" font-family='"Liberation Sans", Arial, Helvetica, sans-serif' font-size="21.69" font-weight="bold" stroke="#000" stroke-width="0.35">0</text>
<rect x="749.1" y="706.98" width="9.4" height="2.6" fill="#000"/>
<text transform="translate(734.85 714.88) scale(1.0105 1.0000)" font-family='"Liberation Sans", Arial, Helvetica, sans-serif' font-size="22.32" font-weight="bold" stroke="#000" stroke-width="0.35">1</text>
<rect x="749.1" y="640.05" width="9.4" height="2.6" fill="#000"/>
<text transform="translate(735.43 647.95) scale(1.0038 1.0000)" font-family='"Liberation Sans", Arial, Helvetica, sans-serif' font-size="22" font-weight="bold" stroke="#000" stroke-width="0.35">2</text>
<rect x="749.1" y="573.12" width="9.4" height="2.6" fill="#000"/>
<text transform="translate(735.66 580.81) scale(0.9873 1.0000)" font-family='"Liberation Sans", Arial, Helvetica, sans-serif' font-size="21.69" font-weight="bold" stroke="#000" stroke-width="0.35">3</text>
<rect x="749.1" y="506.2" width="9.4" height="2.6" fill="#000"/>
<text transform="translate(735.9 514.1) scale(0.8877 1.0000)" font-family='"Liberation Sans", Arial, Helvetica, sans-serif' font-size="22.32" font-weight="bold" stroke="#000" stroke-width="0.35">4</text>
<rect x="768.8" y="686.1" width="20.45" height="89.6" fill="#000"/>
<rect x="767.8" y="686.1" width="22.45" height="2.7" fill="#000"/>
<rect x="789.25" y="604.6" width="20.45" height="171.1" fill="#000"/>
<rect x="788.25" y="604.6" width="22.45" height="2.7" fill="#000"/>
<rect x="792.25" y="607.6" width="14.45" height="167.6" fill="#fff"/>
<rect x="809.7" y="687.3" width="20.45" height="88.4" fill="#000"/>
<rect x="808.7" y="687.3" width="22.45" height="2.7" fill="#000"/>
<rect x="812.7" y="690.3" width="14.45" height="84.9" fill="#808080"/>
<rect x="788.55" y="686.1" width="1.4" height="89.1" fill="#000"/>
<rect x="809" y="687.3" width="1.4" height="87.9" fill="#000"/>
<rect x="777.23" y="649.6" width="2.8" height="37.5" fill="#000"/>
<rect x="772.42" y="648.2" width="12.4" height="2.8" fill="#000"/>
<rect x="797.77" y="576.2" width="2.8" height="29.4" fill="#000"/>
<rect x="792.97" y="574.8" width="12.4" height="2.8" fill="#000"/>
<rect x="818.23" y="665.8" width="2.8" height="22.5" fill="#000"/>
<rect x="813.42" y="664.4" width="12.4" height="2.8" fill="#000"/>
<text transform="translate(765.5 804.8) scale(0.9328 1.0000)" font-family='"Liberation Sans", Arial, Helvetica, sans-serif' font-size="21.51" font-weight="bold" stroke="#000" stroke-width="0.35">H2Ab1</text>
<rect x="848.7" y="691.1" width="20.45" height="84.6" fill="#000"/>
<rect x="847.7" y="691.1" width="22.45" height="2.7" fill="#000"/>
<rect x="869.15" y="655.7" width="20.45" height="120" fill="#000"/>
<rect x="868.15" y="655.7" width="22.45" height="2.7" fill="#000"/>
<rect x="872.15" y="658.7" width="14.45" height="116.5" fill="#fff"/>
<rect x="889.6" y="701.6" width="20.45" height="74.1" fill="#000"/>
<rect x="888.6" y="701.6" width="22.45" height="2.7" fill="#000"/>
<rect x="892.6" y="704.6" width="14.45" height="70.6" fill="#808080"/>
<rect x="868.45" y="691.1" width="1.4" height="84.1" fill="#000"/>
<rect x="888.9" y="701.6" width="1.4" height="73.6" fill="#000"/>
<rect x="857.13" y="658.7" width="2.8" height="33.4" fill="#000"/>
<rect x="852.33" y="657.3" width="12.4" height="2.8" fill="#000"/>
<rect x="877.68" y="635.7" width="2.8" height="21" fill="#000"/>
<rect x="872.88" y="634.3" width="12.4" height="2.8" fill="#000"/>
<rect x="898.13" y="681.1" width="2.8" height="21.5" fill="#000"/>
<rect x="893.33" y="679.7" width="12.4" height="2.8" fill="#000"/>
<text transform="translate(854.19 804.8) scale(0.9394 1.0000)" font-family='"Liberation Sans", Arial, Helvetica, sans-serif' font-size="21.51" font-weight="bold" stroke="#000" stroke-width="0.35">Cd74</text>
<rect x="929.6" y="701" width="20.45" height="74.7" fill="#000"/>
<rect x="928.6" y="701" width="22.45" height="2.7" fill="#000"/>
<rect x="950.05" y="710.3" width="20.45" height="65.4" fill="#000"/>
<rect x="949.05" y="710.3" width="22.45" height="2.7" fill="#000"/>
<rect x="953.05" y="713.3" width="14.45" height="61.9" fill="#fff"/>
<rect x="970.5" y="702.3" width="20.45" height="73.4" fill="#000"/>
<rect x="969.5" y="702.3" width="22.45" height="2.7" fill="#000"/>
<rect x="973.5" y="705.3" width="14.45" height="69.9" fill="#808080"/>
<rect x="949.35" y="710.3" width="1.4" height="64.9" fill="#000"/>
<rect x="969.8" y="710.3" width="1.4" height="64.9" fill="#000"/>
<rect x="938.03" y="680.6" width="2.8" height="21.4" fill="#000"/>
<rect x="933.23" y="679.2" width="12.4" height="2.8" fill="#000"/>
<rect x="958.58" y="698.6" width="2.8" height="12.7" fill="#000"/>
<rect x="953.77" y="697.2" width="12.4" height="2.8" fill="#000"/>
<rect x="979.03" y="681.1" width="2.8" height="22.2" fill="#000"/>
<rect x="974.23" y="679.7" width="12.4" height="2.8" fill="#000"/>
<text transform="translate(935.08 804.8) scale(0.9474 1.0000)" font-family='"Liberation Sans", Arial, Helvetica, sans-serif' font-size="21.51" font-weight="bold" stroke="#000" stroke-width="0.35">Cd86</text>
<rect x="1011.2" y="706.8" width="20.45" height="68.9" fill="#000"/>
<rect x="1010.2" y="706.8" width="22.45" height="2.7" fill="#000"/>
<rect x="1031.65" y="658.2" width="20.45" height="117.5" fill="#000"/>
<rect x="1030.65" y="658.2" width="22.45" height="2.7" fill="#000"/>
<rect x="1034.65" y="661.2" width="14.45" height="114" fill="#fff"/>
<rect x="1052.1" y="701.1" width="20.45" height="74.6" fill="#000"/>
<rect x="1051.1" y="701.1" width="22.45" height="2.7" fill="#000"/>
<rect x="1055.1" y="704.1" width="14.45" height="71.1" fill="#808080"/>
<rect x="1030.95" y="706.8" width="1.4" height="68.4" fill="#000"/>
<rect x="1051.4" y="701.1" width="1.4" height="74.1" fill="#000"/>
<rect x="1019.63" y="696.1" width="2.8" height="11.7" fill="#000"/>
<rect x="1014.83" y="694.7" width="12.4" height="2.8" fill="#000"/>
<rect x="1040.17" y="645" width="2.8" height="14.2" fill="#000"/>
<rect x="1035.38" y="643.6" width="12.4" height="2.8" fill="#000"/>
<rect x="1060.62" y="686.1" width="2.8" height="16" fill="#000"/>
<rect x="1055.83" y="684.7" width="12.4" height="2.8" fill="#000"/>
<text transform="translate(1015.5 804.8) scale(0.9278 1.0000)" font-family='"Liberation Sans", Arial, Helvetica, sans-serif' font-size="21.51" font-weight="bold" stroke="#000" stroke-width="0.35">H2d1</text>
<rect x="1092" y="706.8" width="20.45" height="68.9" fill="#000"/>
<rect x="1091" y="706.8" width="22.45" height="2.7" fill="#000"/>
<rect x="1112.45" y="684.9" width="20.45" height="90.8" fill="#000"/>
<rect x="1111.45" y="684.9" width="22.45" height="2.7" fill="#000"/>
<rect x="1115.45" y="687.9" width="14.45" height="87.3" fill="#fff"/>
<rect x="1132.9" y="709.8" width="20.45" height="65.9" fill="#000"/>
<rect x="1131.9" y="709.8" width="22.45" height="2.7" fill="#000"/>
<rect x="1135.9" y="712.8" width="14.45" height="62.4" fill="#808080"/>
<rect x="1111.75" y="706.8" width="1.4" height="68.4" fill="#000"/>
<rect x="1132.2" y="709.8" width="1.4" height="65.4" fill="#000"/>
<rect x="1100.42" y="698" width="2.8" height="9.8" fill="#000"/>
<rect x="1095.62" y="696.6" width="12.4" height="2.8" fill="#000"/>
<rect x="1120.97" y="676.1" width="2.8" height="9.8" fill="#000"/>
<rect x="1116.17" y="674.7" width="12.4" height="2.8" fill="#000"/>
<rect x="1141.42" y="698" width="2.8" height="12.8" fill="#000"/>
<rect x="1136.62" y="696.6" width="12.4" height="2.8" fill="#000"/>
<text transform="translate(1097.83 804.8) scale(0.9055 1.0000)" font-family='"Liberation Sans", Arial, Helvetica, sans-serif' font-size="21.51" font-weight="bold" stroke="#000" stroke-width="0.35">H2k1</text>
<rect x="1014" y="632.95" width="22" height="2.1" fill="#000"/>
<text transform="translate(1020.88 634.18) scale(0.9722 1.0000)" font-family='"Liberation Sans", Arial, Helvetica, sans-serif' font-size="22" stroke="#000" stroke-width="0.25">*</text>
<rect x="1045" y="634" width="21" height="1" fill="#000" shape-rendering="crispEdges"/>
<text transform="translate(1053.84 627.9) scale(0.8630 1.0000)" font-family='"Liberation Serif", "Times New Roman", Times, serif' font-size="15.11">#</text>
</g>
</svg>
</body>
</html>
